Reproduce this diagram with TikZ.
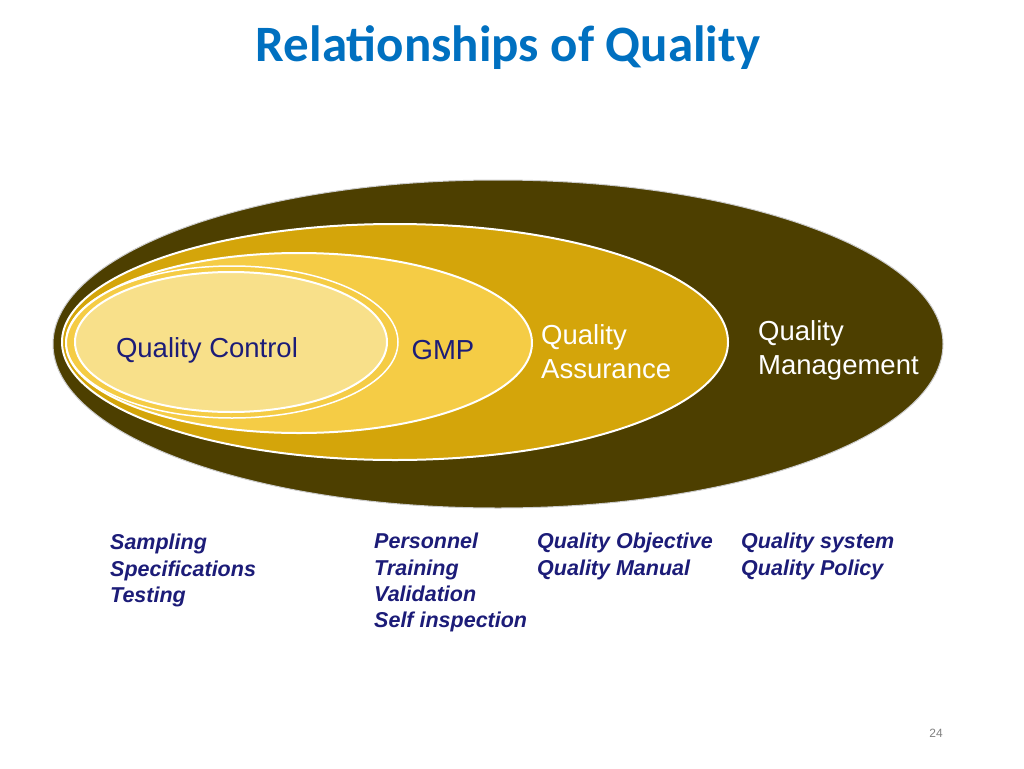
\documentclass[tikz,border=0pt]{standalone}
\usepackage{fontspec}
\setmainfont{Liberation Sans}
\newfontfamily\titlefont{Carlito}
\definecolor{qm}{HTML}{4D3F00}
\definecolor{qa}{HTML}{D4A50A}
\definecolor{gmp}{HTML}{F5CC45}
\definecolor{qc}{HTML}{F8E08A}
\definecolor{navy}{HTML}{1C1C78}
\definecolor{ttl}{HTML}{0070C0}
\begin{document}
\begin{tikzpicture}[x=1pt,y=-1pt,
  ring/.style={draw=white,line width=2pt},
  lbl/.style={font=\fontsize{27.5}{34}\selectfont,anchor=west,align=left,inner sep=0pt},
  sub/.style={font=\fontsize{21.5}{26.3}\selectfont\bfseries\itshape,text=navy,anchor=north west,align=left,inner sep=0pt}]
\useasboundingbox (0,0) rectangle (1024,768);
\node[font=\titlefont\fontsize{51}{60}\selectfont\bfseries,text=ttl] (title) at (508,48) {Relationships of Quality};
\path[ring,draw=gray!40,line width=1pt,fill=qm] (498,344) ellipse [x radius=445,y radius=164];
\path[ring,fill=qa] (395,342) ellipse [x radius=333,y radius=118];
\path[ring,fill=gmp] (299,343) ellipse [x radius=233,y radius=90];
\draw[white,line width=1.5pt] (232,342) ellipse [x radius=166,y radius=76];
\path[ring,fill=qc] (231,342) ellipse [x radius=156,y radius=70];
\node[lbl,text=navy,anchor=center] (qcl) at (207,350) {Quality Control};
\node[lbl,text=navy,anchor=center] (gmpl) at (443,350) {GMP};
\node[lbl,text=white] (qal) at (541,352) {Quality\\Assurance};
\node[lbl,text=white] (qml) at (758,350) {Quality\\Management};
\node[sub] (s1) at (110,534) {Sampling\\Specifications\\Testing};
\node[sub] (s2) at (374,533) {Personnel\\Training\\Validation\\Self inspection};
\node[sub] (s3) at (537,533) {Quality Objective\\Quality Manual};
\node[sub] (s4) at (741,533) {Quality system\\Quality Policy};
\node[font=\fontsize{12}{14}\selectfont,text=gray] (pg) at (936,733) {24};
\end{tikzpicture}
\end{document}
